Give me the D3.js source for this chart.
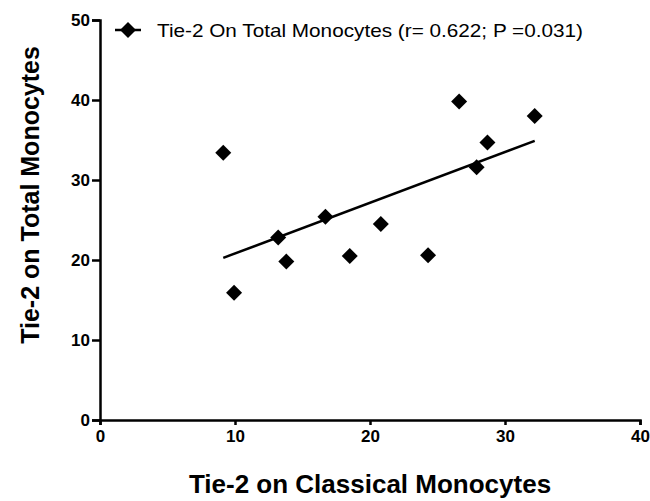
<!DOCTYPE html>
<html lang="en">
<head>
<meta charset="UTF-8" />
<title>Tie-2 scatter</title>
<script src="https://cdn.jsdelivr.net/npm/d3@7"></script>
<style>
    body { margin: 0; background: #fff; }
    text { font-family: "Liberation Sans", Arial, sans-serif; }
</style>
</head>
<body>
<script>
    // Tie-2 on classical monocytes (x) vs total monocytes (y)
    const classical = [9.13, 9.93, 13.2, 13.8, 16.7, 18.5, 20.8, 24.3, 26.6, 27.9, 28.7, 32.2];
    const total     = [33.4, 15.9, 22.8, 19.8, 25.4, 20.5, 24.5, 20.6, 39.8, 31.6, 34.7, 38.0];
    const xTicks = [0, 10, 20, 30, 40];
    const yTicks = [0, 10, 20, 30, 40, 50];
    const legendText = 'Tie-2 On Total Monocytes (r= 0.622; P =0.031)';

    const width = 650, height = 501;
    const margin = { left: 100, top: 20, right: 10, bottom: 81 };

    const svg = d3.select('body').append('svg')
        .attr('width', width)
        .attr('height', height);

    const x = d3.scaleLinear().domain([0, 40]).range([margin.left, 640]);
    const y = d3.scaleLinear().domain([0, 50]).range([420, margin.top]);

    const xAxis = svg.append('g')
        .attr('transform', `translate(0,${y(0)})`)
        .call(d3.axisBottom(x).tickValues(xTicks).tickSize(5).tickSizeOuter(5).tickPadding(5));
    const yAxis = svg.append('g')
        .attr('transform', `translate(${x(0)},0)`)
        .call(d3.axisLeft(y).tickValues(yTicks).tickSize(8).tickSizeOuter(8).tickPadding(2));

    [xAxis, yAxis].forEach(g => {
        g.selectAll('path, line').attr('stroke', '#000').attr('stroke-width', 2.5);
        g.selectAll('text')
            .attr('fill', '#000')
            .attr('font-size', 17)
            .attr('font-weight', 'bold')
            .attr('font-family', '"Liberation Sans", Arial, sans-serif');
    });

    // least-squares fit across the data range
    const mx = d3.mean(classical), my = d3.mean(total);
    const slope = d3.sum(classical, (v, i) => (v - mx) * (total[i] - my)) /
                  d3.sum(classical, v => (v - mx) * (v - mx));
    const icpt = my - slope * mx;
    const [x0, x1] = d3.extent(classical);

    svg.append('line')
        .attr('x1', x(x0)).attr('y1', y(icpt + slope * x0))
        .attr('x2', x(x1)).attr('y2', y(icpt + slope * x1))
        .attr('stroke', '#000')
        .attr('stroke-width', 2.5);

    const diamond = d3.symbol().type(d3.symbolSquare).size(128);

    svg.append('g')
        .selectAll('path')
        .data(classical.map((v, i) => [v, total[i]]))
        .join('path')
        .attr('d', diamond)
        .attr('transform', d => `translate(${x(d[0])},${y(d[1])}) rotate(45)`)
        .attr('fill', '#000');

    // legend
    const lg = svg.append('g').attr('transform', 'translate(128,30)');
    lg.append('line').attr('x1', -13).attr('x2', 13)
        .attr('stroke', '#000').attr('stroke-width', 2.5);
    lg.append('path').attr('d', diamond).attr('transform', 'rotate(45)').attr('fill', '#000');
    lg.append('text')
        .attr('x', 29).attr('y', 7)
        .attr('font-size', 19)
        .attr('textLength', 426)
        .attr('lengthAdjust', 'spacingAndGlyphs')
        .text(legendText);

    svg.append('text')
        .attr('transform', 'translate(39,195) rotate(-90)')
        .attr('text-anchor', 'middle')
        .attr('font-size', 25)
        .attr('font-weight', 'bold')
        .text('Tie-2 on Total Monocytes');

    svg.append('text')
        .attr('x', 370).attr('y', 493)
        .attr('text-anchor', 'middle')
        .attr('font-size', 26)
        .attr('font-weight', 'bold')
        .text('Tie-2 on Classical Monocytes');
</script>
</body>
</html>
